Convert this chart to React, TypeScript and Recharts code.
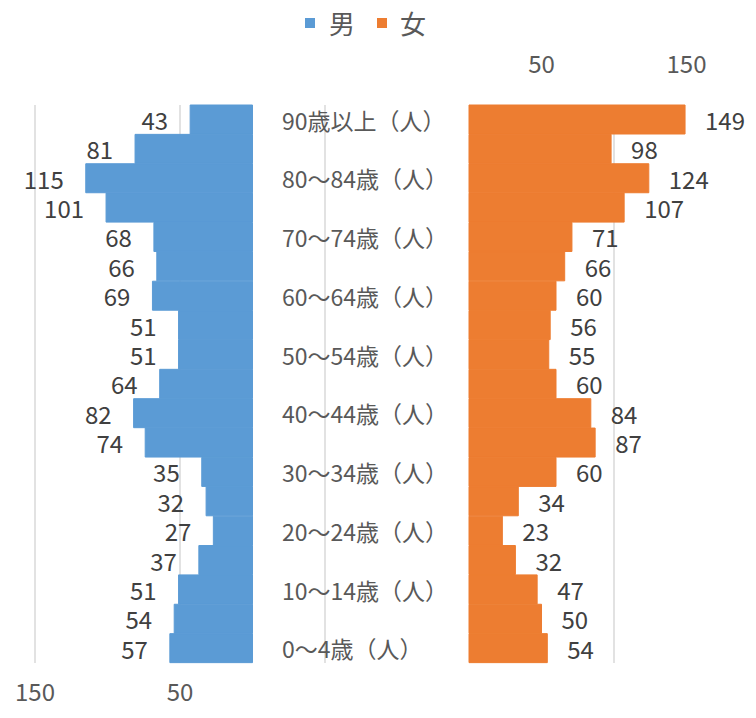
import React from 'react';
import { BarChart, Bar, XAxis, YAxis, CartesianGrid, LabelList } from 'recharts';

const ageGroups = [
  '90歳以上', '85～89歳', '80～84歳', '75～79歳', '70～74歳', '65～69歳', '60～64歳',
  '55～59歳', '50～54歳', '45～49歳', '40～44歳', '35～39歳', '30～34歳', '25～29歳',
  '20～24歳', '15～19歳', '10～14歳', '5～9歳', '0～4歳',
];
const maleCounts = [43, 81, 115, 101, 68, 66, 69, 51, 51, 64, 82, 74, 35, 32, 27, 37, 51, 54, 57];
const femaleCounts = [149, 98, 124, 107, 71, 66, 60, 56, 55, 60, 84, 87, 60, 34, 23, 32, 47, 50, 54];
const maleTicks = [150, 50, -50];
const femaleTicks = [50, 150];

const data = ageGroups.map((age, i) => ({
  age: `${age}（人）`,
  男: maleCounts[i],
  女: femaleCounts[i],
}));

const FONT = '"Noto Sans CJK JP", "Noto Sans", sans-serif';
const BLUE = '#5B9BD5';
const ORANGE = '#ED7D31';
const GRID = '#D9D9D9';

const W = 756;
const H = 718;

function MaleLabel(props: any) {
  const { x, y, width, height, value } = props;
  const left = Math.min(x, x + width);
  return (
    <text x={left - 22} y={y + height / 2} textAnchor="end" dominantBaseline="central"
      fontSize={24} fill="#404040" fontFamily={FONT}>{value}</text>
  );
}

function FemaleLabel(props: any) {
  const { x, y, width, height, value } = props;
  const right = Math.max(x, x + width);
  return (
    <text x={right + 20} y={y + height / 2} textAnchor="start" dominantBaseline="central"
      fontSize={24} fill="#404040" fontFamily={FONT}>{value}</text>
  );
}

function AgeTick(props: any) {
  const { x, y, payload } = props;
  return (
    <text x={x - 42} y={y} textAnchor="start" dominantBaseline="central"
      fontSize={23} fill="#595959" fontFamily={FONT}>{payload.value}</text>
  );
}

export default function App() {
  return (
    <div style={{ position: 'absolute', left: 0, top: 0, width: W, height: H, background: '#fff', fontFamily: FONT }}>
      {/* legend */}
      <div style={{ position: 'absolute', top: 4, left: 305, display: 'flex', alignItems: 'center', fontSize: 26, color: '#595959', lineHeight: '38px' }}>
        <span style={{ display: 'flex', alignItems: 'center' }}>
          <span style={{ width: 10, height: 10, background: BLUE, marginRight: 14 }} />男
        </span>
        <span style={{ display: 'flex', alignItems: 'center', marginLeft: 22 }}>
          <span style={{ width: 10, height: 10, background: ORANGE, marginRight: 13 }} />女
        </span>
      </div>

      {/* male side */}
      <div style={{ position: 'absolute', left: 0, top: 0 }}>
        <BarChart width={W} height={H} data={data} layout="vertical" barCategoryGap={0}
          margin={{ top: 105, right: 431, bottom: 15, left: 35 }}>
          <CartesianGrid horizontal={false} stroke={GRID} strokeWidth={1.5} />
          <XAxis type="number" domain={[-50, 150]} reversed ticks={maleTicks} height={40}
            axisLine={false} tickLine={false} tickMargin={15}
            tick={{ fontSize: 24, fill: '#595959', fontFamily: FONT }}
            tickFormatter={(v: number) => (v < 0 ? '' : String(v))} />
          <YAxis type="category" dataKey="age" hide />
          <Bar dataKey="男" fill={BLUE} stroke={BLUE} strokeWidth={1} isAnimationActive={false}>
            <LabelList dataKey="男" content={MaleLabel} />
          </Bar>
        </BarChart>
      </div>

      {/* female side + age labels */}
      <div style={{ position: 'absolute', left: 0, top: 0 }}>
        <BarChart width={W} height={H} data={data} layout="vertical" barCategoryGap={0}
          margin={{ top: 45, right: 26, bottom: 55, left: 282 }}>
          <CartesianGrid horizontal={false} vertical verticalValues={[100]} stroke={GRID} strokeWidth={1.5} />
          <XAxis type="number" orientation="top" domain={[-100, 180]} ticks={femaleTicks} height={60}
            axisLine={false} tickLine={false} tickMargin={26}
            tick={{ fontSize: 24, fill: '#595959', fontFamily: FONT }} />
          <YAxis type="category" dataKey="age" width={42} axisLine={false} tickLine={false}
            tickSize={0} tickMargin={0} interval={1} tick={<AgeTick />} />
          <Bar dataKey="女" fill={ORANGE} stroke={ORANGE} strokeWidth={1} isAnimationActive={false}>
            <LabelList dataKey="女" content={FemaleLabel} />
          </Bar>
        </BarChart>
      </div>
    </div>
  );
}
